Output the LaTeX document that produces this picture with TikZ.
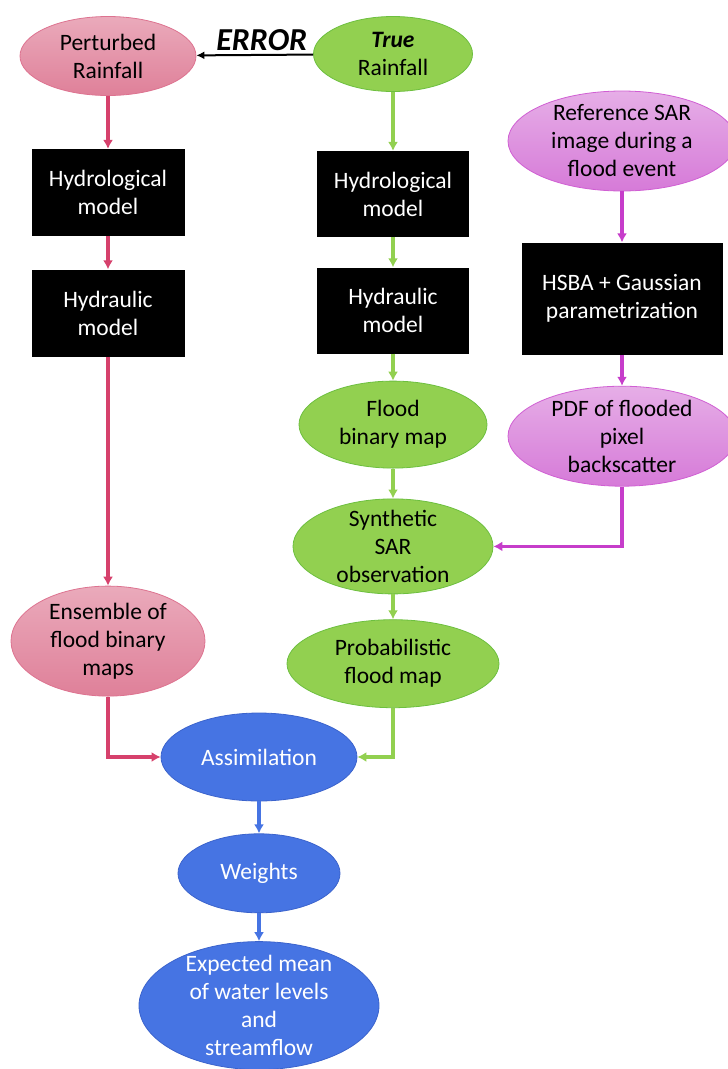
\documentclass[tikz,border=0pt]{standalone}
\usepackage{fontspec}
\setmainfont{Carlito}
\usetikzlibrary{shapes,arrows.meta}
\usetikzlibrary{positioning}
\definecolor{pinktop}{HTML}{EAAABB}
\definecolor{pinkbot}{HTML}{DF8099}
\definecolor{pinkline}{HTML}{D6416C}
\definecolor{greenfill}{HTML}{92D050}
\definecolor{greenline}{HTML}{6DBF3F}
\definecolor{magtop}{HTML}{E6AEE7}
\definecolor{magbot}{HTML}{D67AD8}
\definecolor{magline}{HTML}{C63DCA}
\definecolor{bluefill}{HTML}{4674E3}
\definecolor{blueline}{HTML}{3B63CC}
\tikzstyle{cloud} = [draw, ellipse, line width=0.8pt, align=center,
inner xsep=-12pt, inner ysep=-18pt, font=\fontsize{23.5}{28}\selectfont]
\tikzstyle{block} = [rectangle, fill=black, text=white, align=center,
inner sep=0pt, font=\fontsize{23.5}{28}\selectfont]
\tikzstyle{line} = [draw, line width=3.2pt, -{Latex[length=9pt,width=10pt]}]

\begin{document}
\begin{tikzpicture}[x=1pt, y=1pt,
	pinkcloud/.style={cloud, draw=pinkbot!80!pinkline, top color=pinktop, bottom color=pinkbot},
	greencloud/.style={cloud, draw=greenline, fill=greenfill},
	magcloud/.style={cloud, draw=magline!70!magtop, top color=magtop, bottom color=magbot},
	bluecloud/.style={cloud, draw=blueline, fill=bluefill, text=white}]
	\useasboundingbox (0,0) rectangle (728,-1069);
	%% Perturbed branch
	\node [pinkcloud, minimum width=176pt, minimum height=79pt] at (108,-56) (PR) {Perturbed\\Rainfall};
	\node [block, below=53pt of PR, minimum width=153pt, minimum height=87pt] (HydL) {Hydrological\\model};
	\node [block, below=33pt of HydL, minimum width=153pt, minimum height=87pt] (HydrL) {Hydraulic\\model};
	\node [pinkcloud, below=229pt of HydrL, minimum width=194pt, minimum height=110pt] (Ens) {Ensemble of\\flood binary\\maps};
	%% True branch
	\node [greencloud, minimum width=159pt, minimum height=75pt] at (393,-54) (TR) {\textbf{\textit{True}}\\Rainfall};
	\node [block, below=59pt of TR, minimum width=152pt, minimum height=86pt] (HydC) {Hydrological\\model};
	\node [block, below=30pt of HydC, minimum width=152pt, minimum height=86pt] (HydrC) {Hydraulic\\model};
	\node [greencloud, below=27pt of HydrC, minimum width=188pt, minimum height=87pt] (FBM) {Flood\\binary map};
	\node [greencloud, below=30pt of FBM, minimum width=200pt, minimum height=95pt] (Syn) {Synthetic\\SAR\\observation};
	\node [greencloud, below=25pt of Syn, minimum width=212pt, minimum height=88pt] (Prob) {Probabilistic\\flood map};
	%% SAR branch
	\node [magcloud, minimum width=228pt, minimum height=100pt] at (622,-141) (Ref) {Reference SAR\\image during a\\flood event};
	\node [block, below=51pt of Ref, minimum width=201pt, minimum height=112pt] (HSBA) {HSBA + Gaussian\\parametrization};
	\node [magcloud, below=31pt of HSBA, minimum width=228pt, minimum height=100pt] (PDF) {PDF of flooded\\pixel\\backscatter};
	%% Assimilation
	\node [bluecloud, minimum width=196pt, minimum height=88pt] at (259,-757) (Assim) {Assimilation};
	\node [bluecloud, below=32pt of Assim, minimum width=162pt, minimum height=79pt] (W) {Weights};
	\node [bluecloud, below=28pt of W, minimum width=240pt, minimum height=128pt] (Exp) {Expected mean\\of water levels\\and\\streamflow};
	%% Arrows
	\path [draw, line width=2pt, -{Latex[length=8pt,width=8pt]}] (TR) to node [midway, above, xshift=7pt, yshift=0pt,
		font=\fontsize{32}{32}\selectfont\bfseries\itshape] (ErrText) {ERROR} (PR);
	\path [line, pinkline] (PR) to (HydL);
	\path [line, pinkline] (HydL) to (HydrL);
	\path [line, pinkline] (HydrL) to (Ens);
	\path [line, pinkline] (Ens.south) |- (Assim.west);
	\path [line, greenfill] (TR) to (HydC);
	\path [line, greenfill] (HydC) to (HydrC);
	\path [line, greenfill] (HydrC) to (FBM);
	\path [line, greenfill] (FBM) to (Syn);
	\path [line, greenfill] (Syn) to (Prob);
	\path [line, greenfill] (Prob.south) |- (Assim.east);
	\path [line, magline] (Ref) to (HSBA);
	\path [line, magline] (HSBA) to (PDF);
	\path [line, magline] (PDF.south) |- (Syn.east);
	\path [line, bluefill] (Assim) to (W);
	\path [line, bluefill] (W) to (Exp);
\end{tikzpicture}
\end{document}
